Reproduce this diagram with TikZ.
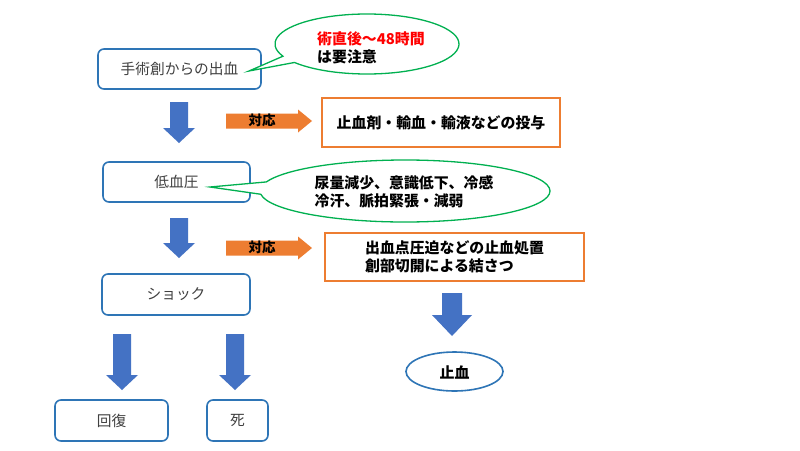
\documentclass[tikz,border=0pt]{standalone}
\usepackage{fontspec}
\setmainfont{Noto Sans CJK JP}
\usetikzlibrary{calc}
\definecolor{bblue}{HTML}{2E75B6}
\definecolor{afill}{HTML}{4472C4}
\definecolor{orng}{HTML}{ED7D31}
\definecolor{grn}{HTML}{00B050}
\definecolor{txtgray}{HTML}{404040}
\newcommand\blkdown[6]{% cx, top, headstart, tip, shafthalf, headhalf
  \fill[afill] (#1-#5,-#2) -- (#1+#5,-#2) -- (#1+#5,-#3) -- (#1+#6,-#3) -- (#1,-#4) -- (#1-#6,-#3) -- (#1-#5,-#3) -- cycle;}
\newcommand\blkright[6]{% cy, left, headstart, tip, shafthalf, headhalf
  \fill[orng] (#2,-#1+#5) -- (#3,-#1+#5) -- (#3,-#1+#6) -- (#4,-#1) -- (#3,-#1-#6) -- (#3,-#1-#5) -- (#2,-#1-#5) -- cycle;}
\tikzset{
  bbox/.style={draw=bblue, line width=1.6pt, rounded corners=6pt, fill=white, text=txtgray, font=\fontsize{14.7}{17}\selectfont, inner sep=0pt},
  obox/.style={draw=orng, line width=1.6pt, fill=white, font=\bfseries\fontsize{14.9}{18}\selectfont, inner sep=0pt},
  callout/.style={draw=grn, line width=1.3pt, fill=white},
  ctext/.style={font=\bfseries\fontsize{14.9}{17.5}\selectfont, align=left, inner sep=0pt},
  taio/.style={font=\bfseries\fontsize{13.5}{15}\selectfont, inner sep=0pt}
}
\begin{document}
\begin{tikzpicture}[x=1pt,y=1pt]
\fill[white] (0,0) rectangle (800,-450);
\useasboundingbox (0,0) rectangle (800,-450);

% boxes
\node[bbox, minimum width=163pt, minimum height=40pt] (n1) at (179.5,-69) {手術創からの出血};
\node[bbox, minimum width=147pt, minimum height=40pt] (n2) at (176.5,-182) {低血圧};
\node[bbox, minimum width=148pt, minimum height=41pt] (n3) at (176,-294.5) {ショック};
\node[bbox, minimum width=113pt, minimum height=41pt] (n4) at (111.5,-420.5) {回復};
\node[bbox, minimum width=61pt, minimum height=41pt] (n5) at (237.5,-420.5) {死};

% callout 1
\coordinate (c1) at (367,-44);
\coordinate (tip1) at (249,-71);
\draw[callout] (c1) ++(218:92pt and 30pt) arc[start angle=218, end angle=564, x radius=92pt, y radius=30pt] -- (tip1) -- cycle;
\node[ctext] (t1) at (371,-48) {\textcolor{red}{術直後～48時間}\\は要注意};

% callout 2
\coordinate (c2) at (405,-191);
\coordinate (tip2) at (210,-187);
\draw[callout] (c2) ++(186:145pt and 31pt) arc[start angle=186, end angle=523, x radius=145pt, y radius=31pt] -- (tip2) -- cycle;
\node[ctext, font=\bfseries\fontsize{14.9}{18}\selectfont] (t2) at (404,-192) {尿量減少、意識低下、冷感\\冷汗、脈拍緊張・減弱};

% orange boxes
\node[obox, minimum width=238pt, minimum height=49pt] (o1) at (441,-122.5) {止血剤・輸血・輸液などの投与};
\node[obox, minimum width=259pt, minimum height=48pt, align=left] (o2) at (454.5,-257) {出血点圧迫などの止血処置\\創部切開による結さつ};

% result ellipse
\draw[bblue, line width=1.6pt, fill=white] (454.5,-371.5) ellipse[x radius=48.5pt, y radius=19.5pt];
\node[font=\bfseries\fontsize{14.9}{17}\selectfont, inner sep=0pt] (e1) at (454.5,-372) {止血};

% blue block arrows
\blkdown{179}{102}{128}{143}{9}{16}
\blkdown{179}{218}{243}{258}{9}{16}
\blkdown{122}{334}{375}{390}{9}{16}
\blkdown{235}{334}{375}{390}{9}{16}
\blkdown{452}{293}{315}{336}{10}{20}

% orange arrows
\blkright{121}{226}{298}{312}{7.5}{11.5}
\blkright{248}{226}{298}{312}{7.5}{11.5}
\node[taio] (a1) at (262,-120) {対応};
\node[taio] (a2) at (262,-247) {対応};
\end{tikzpicture}
\end{document}
